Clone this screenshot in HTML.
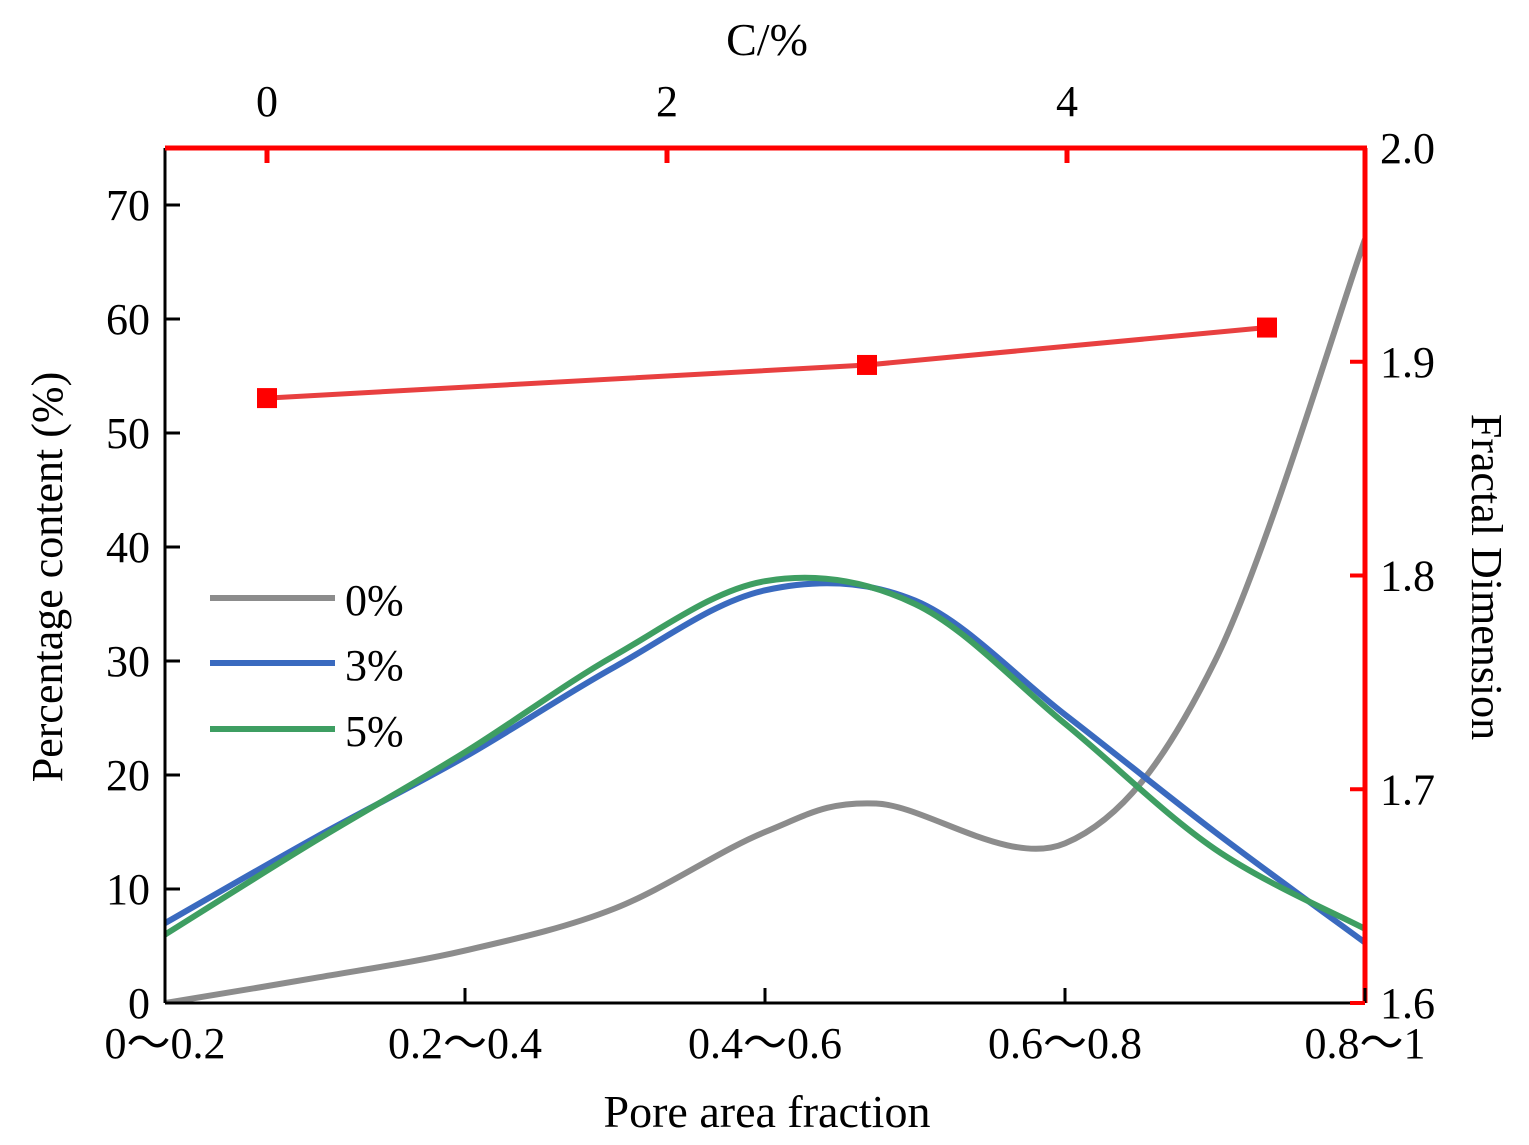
<!DOCTYPE html>
<html><head><meta charset="utf-8"><style>
html,body{margin:0;padding:0;background:#fff;}
svg{display:block;font-family:"Liberation Serif",serif;}
</style></head><body>
<svg id="chart" width="1529" height="1145"></svg>
<script>
const categories=["0～0.2","0.2～0.4","0.4～0.6","0.6～0.8","0.8～1"];
const curvePositions=[0,0.5,1,1.5,2,2.5,3,3.5,4];
const grayPositions=[0,0.5,1,1.5,2,2.37,3,3.5,4];
const series0=[0,2.2,4.6,8.3,15,17.5,14.0,30,67];
const series3=[7,14.5,21.6,29.5,36.2,35.3,25.3,15,5.3];
const series5=[6,14.2,22,30.5,37,35,24.5,13.5,6.5];
const seriesNames=["0%","3%","5%"];
const leftTicks=[0,10,20,30,40,50,60,70];
const rightTicks=[1.6,1.7,1.8,1.9,2.0];
const rightTickLabels=["1.6","1.7","1.8","1.9","2.0"];
const topTicks=[0,2,4];
const fractalC=[0,3,5];
const fractalD=[1.883,1.8985,1.916];

const L=165,R=1365,T=148,B=1003;
const xCat=i=>L+i*300;
const yLeft=v=>B-v*11.4;
const yRight=v=>B-(v-1.6)/0.4*(B-T);
const xTop=c=>267+c*200;
const NS="http://www.w3.org/2000/svg";
const svg=document.getElementById("chart");
function mk(tag,attrs,parent){const e=document.createElementNS(NS,tag);for(const k in attrs)e.setAttribute(k,attrs[k]);(parent||svg).appendChild(e);return e;}
function txt(s,x,y,attrs){const e=mk("text",Object.assign({x:x,y:y,"font-size":44,fill:"#000"},attrs||{}));e.textContent=s;return e;}

function smooth(pts){
  let d="M"+pts[0][0]+","+pts[0][1];
  for(let i=0;i<pts.length-1;i++){
    const p0=pts[i-1]||pts[i],p1=pts[i],p2=pts[i+1],p3=pts[i+2]||p2;
    const c1=[p1[0]+(p2[0]-p0[0])/6,p1[1]+(p2[1]-p0[1])/6];
    const c2=[p2[0]-(p3[0]-p1[0])/6,p2[1]-(p3[1]-p1[1])/6];
    d+=" C"+c1[0]+","+c1[1]+" "+c2[0]+","+c2[1]+" "+p2[0]+","+p2[1];
  }
  return d;
}
const colors=["#8c8c8c","#3a6abf","#3e9e62"];
const allSeries=[series0,series3,series5];
const allPos=[grayPositions,curvePositions,curvePositions];
const clip=mk("clipPath",{id:"pc"});mk("rect",{x:L,y:T,width:R-L,height:B-T},clip);
allSeries.forEach((s,k)=>{
  const pts=s.map((v,i)=>[xCat(allPos[k][i]),yLeft(v)]);
  const p=mk("path",{d:smooth(pts),fill:"none",stroke:colors[k],"stroke-width":6,"clip-path":"url(#pc)"});
  
  
});
const fpts=fractalC.map((c,i)=>xTop(c)+","+yRight(fractalD[i])).join(" ");
const fl=mk("polyline",{points:fpts,fill:"none",stroke:"#e84040","stroke-width":5});


fractalC.forEach((c,i)=>{
  const r=mk("rect",{x:xTop(c)-10,y:yRight(fractalD[i])-10,width:20,height:20,fill:"#f00"});
  
  
});
mk("line",{x1:L,y1:T,x2:L,y2:B,stroke:"#000","stroke-width":3,});
mk("line",{x1:L,y1:B,x2:R,y2:B,stroke:"#000","stroke-width":3,});
mk("line",{x1:L,y1:T,x2:R+2,y2:T,stroke:"#f00","stroke-width":5,});
mk("line",{x1:R,y1:T,x2:R,y2:B,stroke:"#f00","stroke-width":5,});
leftTicks.forEach(v=>{
  const y=yLeft(v);
  mk("line",{x1:L,y1:y,x2:L+15,y2:y,stroke:"#000","stroke-width":3});
  const t=txt(String(v),150,y+15,{"text-anchor":"end"});
  
  
});
categories.forEach((c,i)=>{
  const x=xCat(i);
  mk("line",{x1:x,y1:B,x2:x,y2:B-15,stroke:"#000","stroke-width":3});
  const t=txt(c,x,1058,{"text-anchor":"middle"});
  
  
});
rightTicks.forEach((v,i)=>{
  const y=yRight(v);
  mk("line",{x1:R,y1:y,x2:R-15,y2:y,stroke:"#f00","stroke-width":4});
  const t=txt(rightTickLabels[i],1380,y+15,{});
  
  
});
topTicks.forEach(v=>{
  const x=xTop(v);
  mk("line",{x1:x,y1:T,x2:x,y2:T+15,stroke:"#f00","stroke-width":5});
  const t=txt(String(v),x,116,{"text-anchor":"middle"});
  
  
});
txt("C/%",767,55,{"text-anchor":"middle","font-size":46,});
txt("Pore area fraction",767,1127,{"text-anchor":"middle","font-size":46,});
txt("Percentage content (%)",0,0,{"text-anchor":"middle","font-size":44,transform:"translate(62,577) rotate(-90)",});
txt("Fractal Dimension",0,0,{"text-anchor":"middle","font-size":44,transform:"translate(1472,577) rotate(90)",});
const ly=[598,663,729];
seriesNames.forEach((n,k)=>{
  const g=mk("g",{});
  
  
  mk("line",{x1:210,y1:ly[k],x2:335,y2:ly[k],stroke:colors[k],"stroke-width":6},g);
  const t=mk("text",{x:345,y:ly[k]+17,"font-size":44,fill:"#000"},g);t.textContent=n;
});
</script>
</body></html>
